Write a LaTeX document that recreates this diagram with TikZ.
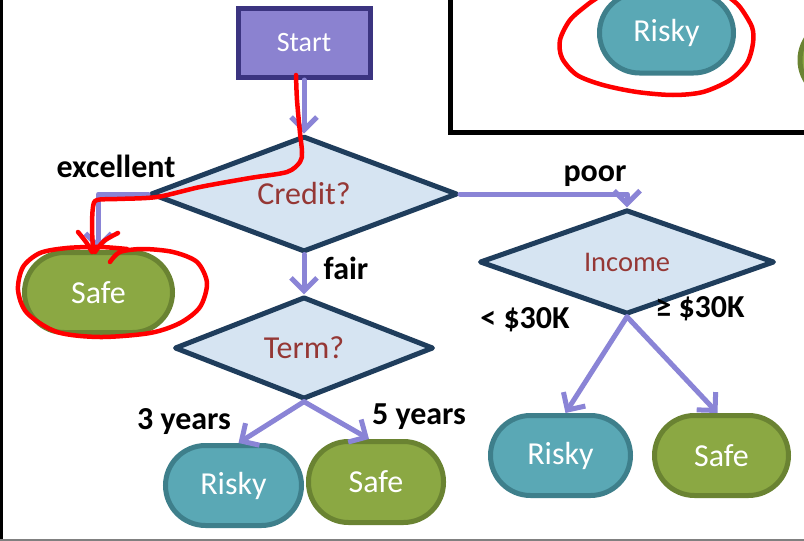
\documentclass[tikz,border=0pt]{standalone}
\usepackage{fontspec}
\setmainfont{Carlito}
\usetikzlibrary{shapes.geometric,arrows.meta}
\definecolor{startfill}{HTML}{8B82D0}
\definecolor{startdraw}{HTML}{3B3480}
\definecolor{decfill}{HTML}{D6E4F2}
\definecolor{decdraw}{HTML}{1F3D5C}
\definecolor{dectext}{HTML}{953735}
\definecolor{riskyfill}{HTML}{5AA8B5}
\definecolor{riskydraw}{HTML}{3E7F8B}
\definecolor{safefill}{HTML}{8BA843}
\definecolor{safedraw}{HTML}{6A8332}
\definecolor{arrowc}{HTML}{8A84D6}
\definecolor{inkred}{HTML}{FF0000}
\tikzset{
  arr/.style={draw=arrowc, line width=5pt, line cap=round, line join=round,
    -{Straight Barb[length=13pt,width=26pt]}},
  startbox/.style={rectangle, fill=startfill, draw=startdraw, line width=5pt,
    minimum width=132pt, minimum height=69pt, inner sep=0pt, text=white,
    font=\fontsize{28}{32}\selectfont},
  dec/.style={diamond, fill=decfill, draw=decdraw, line width=5pt, line join=round,
    inner sep=0pt, text=dectext, font=\fontsize{32}{36}\selectfont},
  leaf/.style={rectangle, rounded corners=40pt, line width=5pt, inner sep=0pt,
    minimum height=80pt, text=white, font=\fontsize{32}{36}\selectfont},
  riskybox/.style={leaf, fill=riskyfill, draw=riskydraw},
  safebox/.style={leaf, fill=safefill, draw=safedraw},
  lab/.style={font=\bfseries\fontsize{32}{36}\selectfont, inner sep=0pt},
  ink/.style={draw=inkred, line width=4.5pt, line cap=round, line join=round}
}
\begin{document}
\begin{tikzpicture}[x=1pt,y=-1pt]
\useasboundingbox (0,0) rectangle (804,541);
\clip (0,0) rectangle (804,541);
\fill[white] (0,0) rectangle (804,541);
% frame lines of the screenshot
\fill[black] (0,0) rectangle (3,541);
\fill[gray] (0,538.5) rectangle (804,541);
% top-right inset frame
\draw[black, line width=5pt] (450.5,-10) -- (450.5,132) -- (820,132);
\node[riskybox, minimum width=134pt] (riskytop) at (666.5,33) {Risky};
\node[safebox, minimum width=134pt] (safetop) at (867,60) {};

% tree nodes
\node[startbox] (start) at (304,43) {Start};
\node[dec, minimum width=307pt, minimum height=71pt] (credit) at (304,194) {Credit?};
\node[dec, minimum width=259pt, minimum height=71pt] (term) at (304,348) {Term?};
\node[dec, minimum width=295pt, minimum height=70pt, font=\fontsize{28.5}{32}\selectfont] (income) at (627,262) {Income};
\node[safebox, minimum width=148pt] (safe1) at (98.5,292.5) {Safe};
\node[riskybox, minimum width=136pt] (risky1) at (233.5,485.5) {Risky};
\node[safebox, minimum width=135pt, minimum height=81pt] (safe2) at (376,482) {Safe};
\node[riskybox, minimum width=140pt] (risky2) at (560.5,455.5) {Risky};
\node[safebox, minimum width=134pt] (safe3) at (721.5,455.5) {Safe};

% connectors
\draw[arr] (start.south) -- (credit.north);
\draw[arr] (credit.west) -| (safe1.north);
\draw[arr] (credit.south) -- (term.north);
\draw[arr] (credit.east) -| (income.north);
\draw[arr] (term.south) -- ([xshift=5pt]risky1.north);
\draw[arr] (term.south) -- ([xshift=-7pt]safe2.north);
\draw[arr] (income.south) -- ([xshift=5pt]risky2.north);
\draw[arr] (income.south) -- ([xshift=-4pt]safe3.north);

% labels
\node[lab] (lexc) at (116,166) {excellent};
\node[lab] (lfair) at (346,268) {fair};
\node[lab] (lpoor) at (595,176) {poor};
\node[lab] (llow) at (525,320) {< \$30K};
\node[lab] (lhigh) at (700,309) {≥ \$30K};
\node[lab] (l3y) at (184,422) {3 years};
\node[lab] (l5y) at (419,417) {5 years};

% red freehand annotations
\draw[ink] plot[smooth] coordinates {(296,75) (297,100) (300,133) (302,152) (300,162) (287,172) (250,178) (200,187) (157,197) (117,199) (97,200) (93,207) (92,227) (93,250)};
\draw[ink] plot[smooth] coordinates {(78,232) (86,242) (92,252)};
\draw[ink] plot[smooth] coordinates {(118,233) (104,241) (95,252)};
\draw[ink] plot[smooth] coordinates {(110,262) (120,252) (143,249) (173,252) (197,262) (207,283) (200,307) (180,323) (150,333) (100,337) (57,332) (27,313) (18,290) (23,267) (40,253) (67,248) (100,247) (127,249)};
\draw[ink] plot[smooth] coordinates {(730,-2) (740,7) (752,27) (753,43) (747,63) (730,80) (703,92) (673,95) (637,92) (603,85) (577,75) (562,58) (560,40) (570,20) (587,5) (597,-2)};
\end{tikzpicture}
\end{document}
